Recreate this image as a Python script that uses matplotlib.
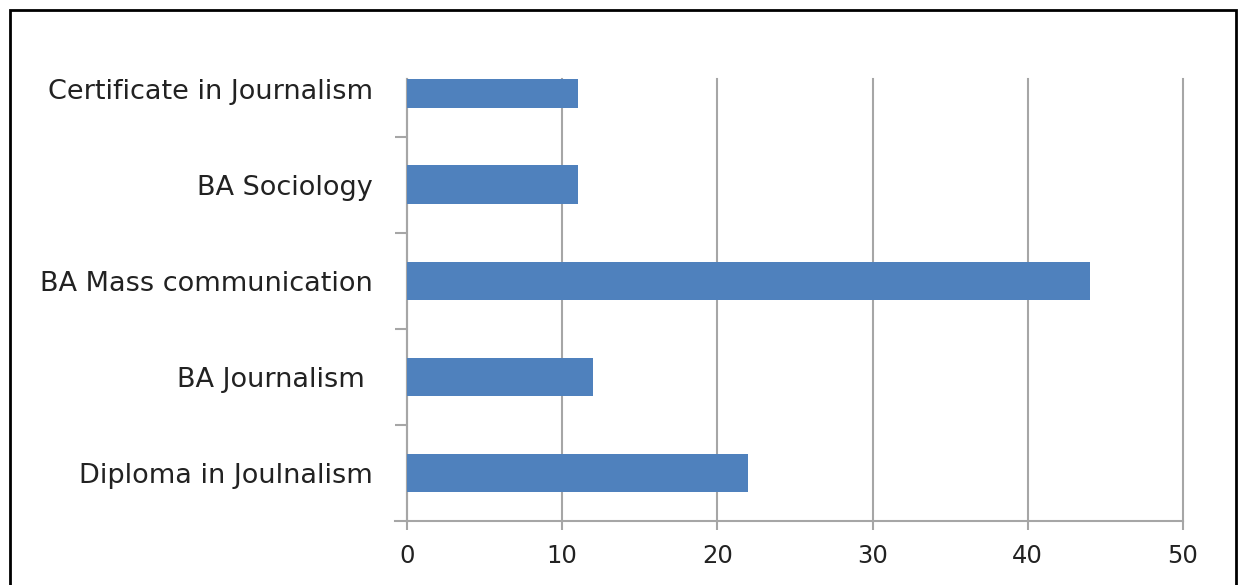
import matplotlib
matplotlib.use("Agg")
import matplotlib.pyplot as plt
from matplotlib.patches import Rectangle

# programmes, bottom to top
programmes = ["Diploma in Joulnalism", "BA Journalism ", "BA Mass communication",
              "BA Sociology", "Certificate in Journalism"]
counts = [22, 12, 44, 11, 11]
xticks = [0, 10, 20, 30, 40, 50]

grey = "#A6A6A6"
blue = "#4F81BD"

fig = plt.figure(figsize=(12.38, 5.85), dpi=100)
ax = fig.add_axes([407 / 1238, 64 / 585, 776 / 1238, 442 / 585])

pos = list(range(len(programmes)))
ax.barh(pos, counts, height=0.4, color=blue, zorder=3)

ax.set_xlim(0, 50)
ax.set_ylim(-0.5, 4.1)
ax.set_xticks(xticks)
ax.set_xticklabels([str(v) for v in xticks], fontsize=17.5, family="DejaVu Sans")
ax.xaxis.grid(True, color=grey, linewidth=1.5, zorder=0)
for gl in ax.get_xgridlines():
    gl.set_clip_on(False)

# category boundaries carry the tick marks, names sit between them
ax.set_yticks([p + 0.5 for p in pos[:-1]], minor=False)
ax.set_yticklabels([])
ax.set_yticks(pos, minor=True)
ax.set_yticklabels(programmes, minor=True, fontsize=19.5, family="DejaVu Sans",
                   color="#222222")
ax.tick_params(axis="y", which="minor", length=0, pad=24.5)
ax.tick_params(axis="y", which="major", length=8.6, width=1.5, color=grey)
ax.tick_params(axis="x", length=6.5, width=1.5, color=grey, pad=10,
               labelcolor="#222222")

for side in ["top", "right"]:
    ax.spines[side].set_visible(False)
for side in ["left", "bottom"]:
    ax.spines[side].set_color(grey)
    ax.spines[side].set_linewidth(1.5)
# the axis line runs on left under the lowest boundary tick
ax.plot([-12 / 15.52, 0], [-0.5, -0.5], color=grey, linewidth=1.5,
        clip_on=False, zorder=4)

fig.patches.append(Rectangle((10 / 1238, -0.02), 1226 / 1238, 1 - 10 / 585 + 0.02,
                             transform=fig.transFigure, fill=False,
                             edgecolor="black", linewidth=2))

fig.savefig("out.png", dpi=100)
